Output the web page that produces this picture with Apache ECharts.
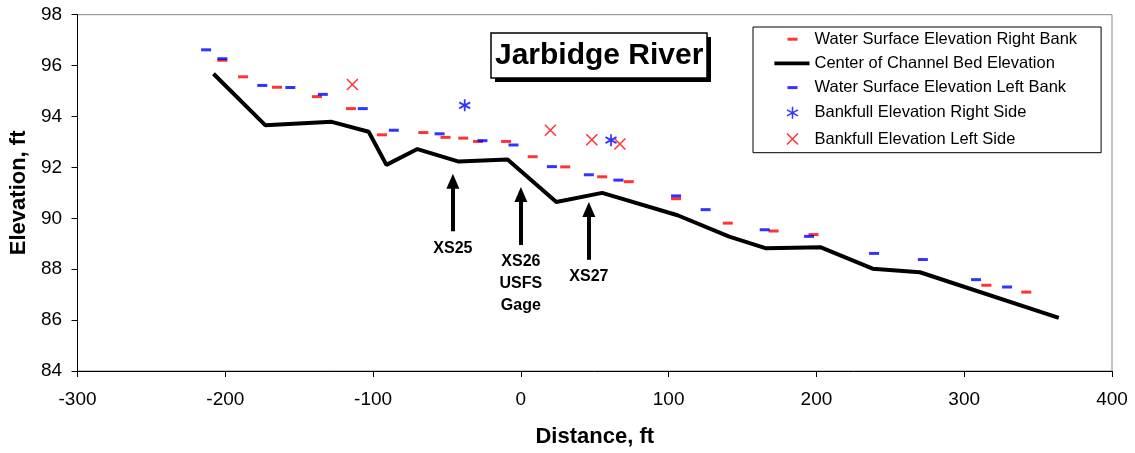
<!DOCTYPE html>
<html>
<head>
    <meta charset="utf-8">
    <title>Jarbidge River</title>
    <script src="https://cdn.jsdelivr.net/npm/echarts@6/dist/echarts.min.js"></script>
    <style>
        html, body { margin: 0; padding: 0; background: #fff; }
        #main { width: 1135px; height: 453px; }
    </style>
</head>
<body>
<div id="main"></div>
<script type="text/javascript">
// values (distance ft, elevation ft)
var rightBankX = [-202, -188, -165, -138, -115, -94, -66, -51, -39, -29, -10, 8, 30, 55, 73, 105, 140, 171, 198, 315, 342];
var rightBankY = [96.21, 95.56, 95.15, 94.78, 94.31, 93.28, 93.37, 93.18, 93.15, 93.02, 93.02, 92.42, 92.02, 91.63, 91.44, 90.77, 89.81, 89.5, 89.36, 87.37, 87.1];

var leftBankX = [-213, -202, -175, -156, -134, -107, -86, -55, -26, -5, 21, 46, 66, 105, 125, 165, 195, 239, 272, 308, 329];
var leftBankY = [96.62, 96.27, 95.22, 95.14, 94.87, 94.31, 93.46, 93.32, 93.05, 92.88, 92.03, 91.71, 91.5, 90.88, 90.34, 89.55, 89.29, 88.62, 88.38, 87.59, 87.3];

var bedX = [-208, -173, -128, -103, -91, -70, -42, -9, 24, 55, 106, 141, 166, 203, 238, 270, 364];
var bedY = [95.68, 93.66, 93.79, 93.4, 92.1, 92.72, 92.23, 92.31, 90.64, 91.0, 90.12, 89.28, 88.82, 88.86, 88.02, 87.88, 86.09];

var bankfullRightX = [-38, 61];
var bankfullRightY = [94.44, 93.07];

var bankfullLeftX = [-114, 20, 48, 67];
var bankfullLeftY = [95.26, 93.46, 93.09, 92.92];

// cross section arrows
var arrowX = [-46, 0, 46];
var arrowBase = [89.49, 88.95, 88.37];
var arrowHead = [91.46, 90.94, 90.35];
var arrowLabels = ['XS25', 'XS26\nUSFS\nGage', 'XS27'];

var xTicks = { min: -300, max: 400, interval: 100 };
var yTicks = { min: 84, max: 98, interval: 2 };

var names = [
    'Water Surface Elevation Right Bank',
    'Center of Channel Bed Elevation',
    'Water Surface Elevation Left Bank',
    'Bankfull Elevation Right Side',
    'Bankfull Elevation Left Side'
];

function pairs(xs, ys) {
    return xs.map(function (x, i) { return [x, ys[i]]; });
}

var FONT = 'Liberation Sans, Arial, sans-serif';
var xPath = 'path://M0,0L10,10M10,0L0,10';
var starPath = 'path://M5,0L5,10M0.7,2.5L9.3,7.5M0.7,7.5L9.3,2.5';

var myChart = echarts.init(document.getElementById('main'));

var arrowData = arrowX.map(function (x, i) {
    return [
        { coord: [x, arrowBase[i]], label: { formatter: arrowLabels[i] } },
        { coord: [x, arrowHead[i]] }
    ];
});

myChart.setOption({
    animation: false,
    // drop shadow behind the title box
    graphic: [{
        type: 'rect',
        z: 5,
        shape: { x: 495, y: 37, width: 216, height: 45 },
        style: { fill: '#000' },
        silent: true
    }],
    title: {
        text: 'Jarbidge River',
        left: 491,
        top: 33,
        z: 6,
        padding: [7, 4, 6, 4],
        backgroundColor: '#fff',
        borderColor: '#000',
        borderWidth: 1.5,
        textStyle: { fontFamily: FONT, fontSize: 30, fontWeight: 'bold', color: '#000', lineHeight: 32 }
    },
    legend: {
        orient: 'vertical',
        left: 753,
        top: 27,
        itemWidth: 40,
        itemHeight: 14,
        itemGap: 7.2,
        padding: [3.7, 24, 4.2, 14],
        borderColor: '#000',
        borderWidth: 1,
        backgroundColor: '#fff',
        selectedMode: false,
        textStyle: { fontFamily: FONT, fontSize: 16.5, lineHeight: 16, color: '#000' },
        data: [
            { name: names[0], icon: 'path://M0,0M40,14M18,5.5L28,5.5L28,8.5L18,8.5Z', itemStyle: { color: '#ff0000' } },
            { name: names[1], icon: 'path://M0,0M40,14M5,5L41,5L41,9L5,9Z', itemStyle: { color: '#000' } },
            { name: names[2], icon: 'path://M0,0M40,14M18,5.5L28,5.5L28,8.5L18,8.5Z', itemStyle: { color: '#0000ff' } },
            { name: names[3], icon: 'path://M0,0M40,14M23,1L23,13M17.5,4L28.5,10M17.5,10L28.5,4', itemStyle: { color: 'none', borderColor: '#0000ff', borderWidth: 1.5 } },
            { name: names[4], icon: 'path://M0,0M40,14M17.5,1.5L28.5,12.5M28.5,1.5L17.5,12.5', itemStyle: { color: 'none', borderColor: '#ff0000', borderWidth: 1.5 } }
        ]
    },
    grid: {
        left: 77.5,
        right: 23,
        top: 14.7,
        bottom: 79.3,
        show: true,
        borderColor: '#888',
        borderWidth: 1
    },
    xAxis: {
        type: 'value',
        min: xTicks.min,
        max: xTicks.max,
        interval: xTicks.interval,
        name: 'Distance, ft',
        nameLocation: 'middle',
        nameGap: 55,
        nameTextStyle: { fontFamily: FONT, fontSize: 22, fontWeight: 'bold', color: '#000' },
        axisLine: { onZero: false, lineStyle: { color: '#000', width: 1 } },
        axisTick: { show: true, length: 6, lineStyle: { color: '#000' } },
        axisLabel: { margin: 19, fontFamily: FONT, fontSize: 19, color: '#000' },
        splitLine: { show: false }
    },
    yAxis: {
        type: 'value',
        min: yTicks.min,
        max: yTicks.max,
        interval: yTicks.interval,
        name: 'Elevation, ft',
        nameLocation: 'middle',
        nameGap: 44,
        nameTextStyle: { fontFamily: FONT, fontSize: 22, fontWeight: 'bold', color: '#000' },
        axisLine: { show: true, onZero: false, lineStyle: { color: '#000', width: 1 } },
        axisTick: { show: true, length: 6, lineStyle: { color: '#000' } },
        axisLabel: { margin: 15.5, fontFamily: FONT, fontSize: 19, color: '#000' },
        splitLine: { show: false }
    },
    series: [
        {
            name: names[0],
            type: 'scatter',
            symbol: 'rect',
            symbolSize: [10, 3],
            itemStyle: { color: '#ff0000' },
            data: pairs(rightBankX, rightBankY)
        },
        {
            name: names[1],
            type: 'line',
            symbol: 'none',
            lineStyle: { color: '#000', width: 4 },
            itemStyle: { color: '#000' },
            data: pairs(bedX, bedY),
            markLine: {
                silent: true,
                symbol: ['none', 'triangle'],
                symbolSize: [13, 15],
                lineStyle: { color: '#000', width: 4, type: 'solid' },
                label: {
                    show: true,
                    position: 'start',
                    distance: 6,
                    fontFamily: FONT,
                    fontSize: 16,
                    fontWeight: 'bold',
                    lineHeight: 22,
                    color: '#000',
                    align: 'center'
                },
                data: arrowData
            }
        },
        {
            name: names[2],
            type: 'scatter',
            symbol: 'rect',
            symbolSize: [10, 3],
            itemStyle: { color: '#0000ff' },
            data: pairs(leftBankX, leftBankY)
        },
        {
            name: names[3],
            type: 'scatter',
            symbol: starPath,
            symbolSize: [11, 12],
            itemStyle: { color: 'none', borderColor: '#0000ff', borderWidth: 1.8 },
            data: pairs(bankfullRightX, bankfullRightY)
        },
        {
            name: names[4],
            type: 'scatter',
            symbol: xPath,
            symbolSize: [11, 11],
            itemStyle: { color: 'none', borderColor: '#ff0000', borderWidth: 1.5 },
            data: pairs(bankfullLeftX, bankfullLeftY)
        }
    ]
});
</script>
</body>
</html>
